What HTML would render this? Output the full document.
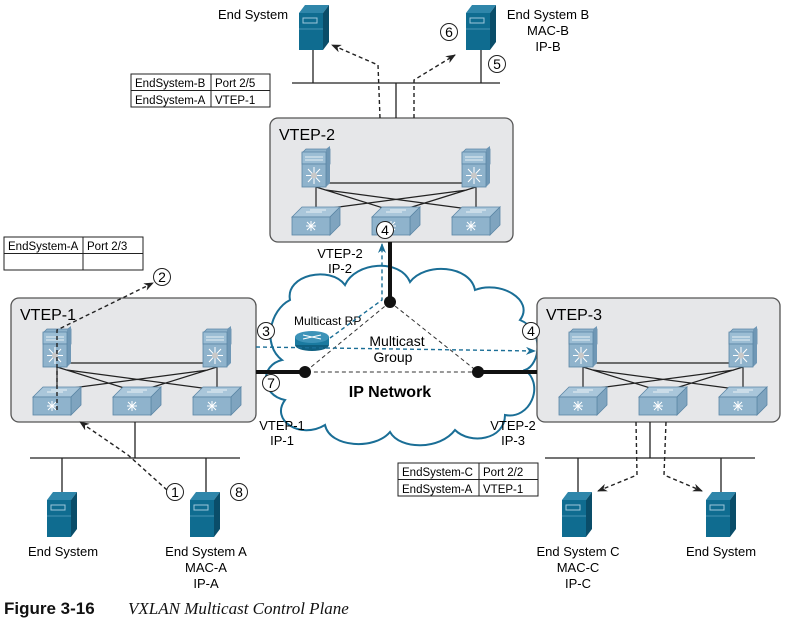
<!DOCTYPE html>
<html><head><meta charset="utf-8"><style>
html,body{margin:0;padding:0;background:#fff;}
svg{display:block;font-family:"Liberation Sans",sans-serif;}
</style></head><body>
<svg width="790" height="631" viewBox="0 0 790 631" xmlns="http://www.w3.org/2000/svg">
<defs>
<symbol id="core" overflow="visible">
  <path d="M0,4 L4,0 L28,0 L28,15 L0,15Z" fill="#8fb3cc" stroke="#5b86a6" stroke-width="0.8"/>
  <path d="M24,0 L28,-3 L28,34 L24,38Z" fill="#6f97b5"/>
  <rect x="0" y="3" width="24" height="12" fill="#9bbdd4" stroke="#5b86a6" stroke-width="0.8"/>
  <path d="M3,8 L21,8 M3,11 L21,11" stroke="#fff" stroke-width="0.8"/>
  <rect x="0" y="15" width="24" height="23" fill="#8fb3cc" stroke="#5b86a6" stroke-width="0.8"/>
  <path d="M12,18 L12,35 M4,26.5 L20,26.5 M6,20 L18,33 M18,20 L6,33" stroke="#fff" stroke-width="1"/>
  <circle cx="12" cy="26.5" r="3" fill="#c8c8c8"/>
</symbol>
<symbol id="acc" overflow="visible">
  <path d="M0,10 L10,0 L48,0 L38,10Z" fill="#a9c6da" stroke="#5b86a6" stroke-width="0.8"/>
  <path d="M38,10 L48,0 L48,18 L38,28Z" fill="#7fa4bf" stroke="#5b86a6" stroke-width="0.8"/>
  <rect x="0" y="10" width="38" height="18" fill="#8fb3cc" stroke="#5b86a6" stroke-width="0.8"/>
  <path d="M14,5 L30,5 M18,3 L34,3" stroke="#fff" stroke-width="0.8"/>
  <path d="M19,14 L19,24 M14,19 L24,19 M15,15 L23,23 M23,15 L15,23" stroke="#fff" stroke-width="1"/>
</symbol>
<symbol id="srv" overflow="visible">
  <path d="M0,8 L6,0 L30,0 L24,8Z" fill="#2f86aa"/>
  <path d="M24,8 L30,0 L30,37 L24,45Z" fill="#0a4d69"/>
  <rect x="0" y="8" width="24" height="37" fill="#0f6c90"/>
  <rect x="4" y="13" width="14" height="5" fill="none" stroke="#9cc6da" stroke-width="1"/>
  <path d="M0,24 L24,24" stroke="#5ea3c2" stroke-width="0.8"/>
</symbol>
<marker id="ah" markerWidth="10" markerHeight="8" refX="9" refY="4" orient="auto" markerUnits="userSpaceOnUse"><path d="M0,0 L10,4 L0,8 L3,4Z" fill="#222"/></marker>
<marker id="ahb" markerWidth="10" markerHeight="8" refX="9" refY="4" orient="auto" markerUnits="userSpaceOnUse"><path d="M0,0 L10,4 L0,8 L3,4Z" fill="#1a6e96"/></marker>
</defs>

<path d="M290,300 C285,275 330,265 345,285 C355,262 400,258 410,282 C425,262 470,265 475,290 C500,280 535,300 520,320 C545,330 540,365 525,370 C545,385 530,420 505,415 C505,440 470,445 455,430 C440,450 400,450 390,432 C375,450 330,448 325,425 C300,440 270,420 285,400 C260,395 260,365 282,360 C262,345 270,310 290,300Z" fill="#fff" stroke="#1a6e96" stroke-width="2"/>

<rect x="270" y="118" width="243" height="124" rx="8" fill="#e6e7e9" stroke="#555" stroke-width="1.3"/>
<rect x="11" y="298" width="245" height="124" rx="8" fill="#e6e7e9" stroke="#555" stroke-width="1.3"/>
<rect x="537" y="298" width="243" height="124" rx="8" fill="#e6e7e9" stroke="#555" stroke-width="1.3"/>
<text x="279" y="140" font-size="16">VTEP-2</text>
<text x="20" y="320" font-size="16">VTEP-1</text>
<text x="546" y="320" font-size="16">VTEP-3</text>

<g stroke="#222" stroke-width="1.2" fill="none">
  <g id="lk">
  <path d="M326,183 L467,183 M316,187 L316,212 M476,187 L476,212 M316,187 L396,212 M476,187 L396,212 M326,190 L476,210 M467,190 L316,210"/>
  </g>
  <use href="#lk" x="-259" y="180"/>
  <use href="#lk" x="267" y="180"/>
</g>
<g id="sw">
  <use href="#core" x="302" y="149"/><use href="#core" x="462" y="149"/>
  <use href="#acc" x="292" y="207"/><use href="#acc" x="372" y="207"/><use href="#acc" x="452" y="207"/>
</g>
<use href="#sw" x="-259" y="180"/>
<use href="#sw" x="267" y="180"/>

<g stroke="#111" stroke-width="4">
<path d="M390,242 L390,302 M256,372 L305,372 M478,372 L537,372"/>
</g>
<g stroke="#333" stroke-width="1" stroke-dasharray="4,3" fill="none">
<path d="M390,302 L305,372 L478,372 Z"/>
</g>
<circle cx="390" cy="302" r="6" fill="#111"/>
<circle cx="305" cy="372" r="6" fill="#111"/>
<circle cx="478" cy="372" r="6" fill="#111"/>

<ellipse cx="312" cy="345" rx="17" ry="6" fill="#0f5f80"/>
<rect x="295" y="337" width="34" height="8" fill="#1a7aa0"/>
<ellipse cx="312" cy="337" rx="17" ry="6" fill="#3d93b8"/>
<path d="M303,335 L321,339 M321,335 L303,339" stroke="#fff" stroke-width="1"/>
<text x="294" y="325" font-size="12">Multicast RP</text>
<text x="397" y="346" font-size="14" text-anchor="middle">Multicast</text>
<text x="393" y="362" font-size="14" text-anchor="middle">Group</text>
<text x="390" y="397" font-size="16" font-weight="bold" text-anchor="middle">IP Network</text>

<g stroke="#1a6e96" stroke-width="1.4" stroke-dasharray="4,3" fill="none">
<path d="M256,347 L535,351" marker-end="url(#ahb)"/>
<path d="M330,338 L382,300 L382,244" marker-end="url(#ahb)"/>
</g>

<g stroke="#222" stroke-width="1.3" fill="none">
<path d="M292,83 L500,83 M313,50 L313,83 M481,50 L481,83 M396,83 L396,118"/>
<path d="M30,458 L240,458 M135,422 L135,458 M62,458 L62,492 M206,458 L206,492"/>
<path d="M545,458 L755,458 M650,422 L650,458 M578,458 L578,492 M721,458 L721,492"/>
</g>
<use href="#srv" x="299" y="5"/><use href="#srv" x="466" y="5"/>
<use href="#srv" x="47" y="492"/><use href="#srv" x="190" y="492"/>
<use href="#srv" x="562" y="492"/><use href="#srv" x="706" y="492"/>

<g stroke="#222" stroke-width="1.4" stroke-dasharray="4,3" fill="none">
<path d="M380,118 L378,65 L332,45" marker-end="url(#ah)"/>
<path d="M414,118 L414,80 L455,55" marker-end="url(#ah)"/>
<path d="M57,410 L57,330 L153,283" marker-end="url(#ah)"/>
<path d="M167,490 L128,455 L80,422" marker-end="url(#ah)"/>
<path d="M636,422 L637,475 L598,491" marker-end="url(#ah)"/>
<path d="M666,422 L664,475 L702,491" marker-end="url(#ah)"/>
</g>

<g font-size="14" text-anchor="middle" fill="#000">
<g fill="#fff" stroke="#222" stroke-width="1">
<circle cx="449" cy="32" r="8.5"/><circle cx="497" cy="64" r="8.5"/><circle cx="385" cy="230" r="8.5"/>
<circle cx="162" cy="277" r="8.5"/><circle cx="266" cy="331" r="8.5"/><circle cx="271" cy="383" r="8.5"/>
<circle cx="531" cy="331" r="8.5"/><circle cx="175" cy="492" r="8.5"/><circle cx="239" cy="492" r="8.5"/>
</g>
<text x="449" y="37">6</text><text x="497" y="69">5</text><text x="385" y="235">4</text>
<text x="162" y="282">2</text><text x="266" y="336">3</text><text x="271" y="388">7</text>
<text x="531" y="336">4</text><text x="175" y="497">1</text><text x="239" y="497">8</text>
</g>

<g font-size="13" text-anchor="middle">
<text x="253" y="19">End System</text>
<text x="548" y="19">End System B</text><text x="548" y="35">MAC-B</text><text x="548" y="51">IP-B</text>
<text x="340" y="258">VTEP-2</text><text x="340" y="273">IP-2</text>
<text x="282" y="430">VTEP-1</text><text x="282" y="445">IP-1</text>
<text x="513" y="430">VTEP-2</text><text x="513" y="445">IP-3</text>
<text x="63" y="556">End System</text>
<text x="206" y="556">End System A</text><text x="206" y="572">MAC-A</text><text x="206" y="588">IP-A</text>
<text x="578" y="556">End System C</text><text x="578" y="572">MAC-C</text><text x="578" y="588">IP-C</text>
<text x="721" y="556">End System</text>
</g>

<g font-size="11.5" fill="#000">
<g fill="none" stroke="#222" stroke-width="1">
<rect x="131" y="74" width="139" height="33"/><path d="M131,90.5 L270,90.5 M211,74 L211,107"/>
<rect x="4" y="237" width="139" height="33"/><path d="M4,253.5 L143,253.5 M83,237 L83,270"/>
<rect x="398" y="463" width="140" height="33"/><path d="M398,479.5 L538,479.5 M479,463 L479,496"/>
</g>
<text x="135" y="87">EndSystem-B</text><text x="215" y="87">Port 2/5</text>
<text x="135" y="104">EndSystem-A</text><text x="215" y="104">VTEP-1</text>
<text x="8" y="250">EndSystem-A</text><text x="87" y="250">Port 2/3</text>
<text x="402" y="476">EndSystem-C</text><text x="483" y="476">Port 2/2</text>
<text x="402" y="493">EndSystem-A</text><text x="483" y="493">VTEP-1</text>
</g>

<text x="4" y="614" font-size="17" font-weight="bold" fill="#111">Figure 3-16</text>
<text x="128" y="614" font-size="17" font-style="italic" font-family="Liberation Serif, serif" fill="#111">VXLAN Multicast Control Plane</text>
</svg>
</body></html>
